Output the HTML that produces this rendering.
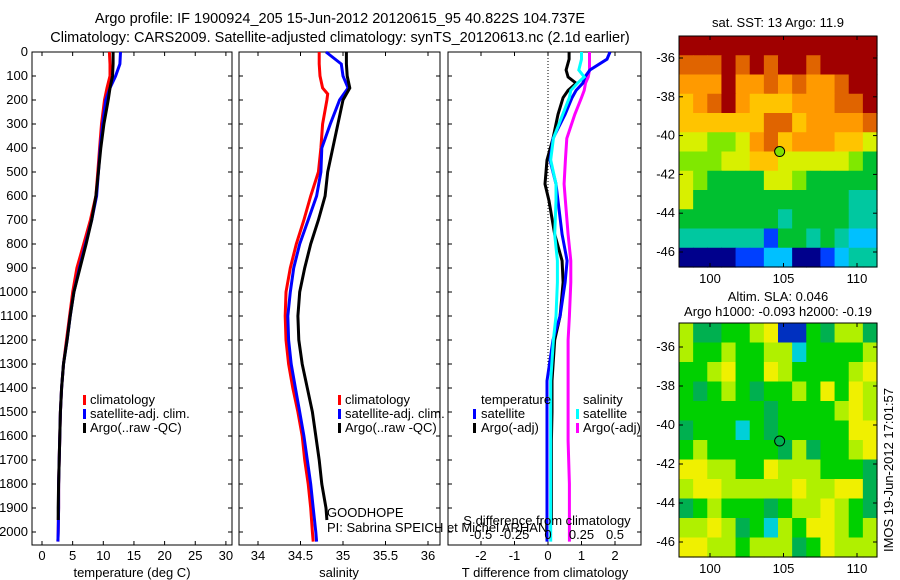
<!DOCTYPE html>
<html><head><meta charset="utf-8"><style>
body{margin:0;background:#fff;}
svg{display:block;font-family:"Liberation Sans",sans-serif;}
text{font-size:13px;fill:#000;}
text.title{font-size:14.5px;}
</style></head><body>
<svg id="fig" width="900" height="580" viewBox="0 0 900 580" xmlns="http://www.w3.org/2000/svg">
<text class="title" x="340" y="23" text-anchor="middle">Argo profile: IF 1900924_205 15-Jun-2012 20120615_95 40.822S 104.737E</text>
<text class="title" x="340" y="42" text-anchor="middle">Climatology: CARS2009. Satellite-adjusted climatology: synTS_20120613.nc (2.1d earlier)</text>
<g id="g"></g>
</svg>
<script>
// ---- data ----
const tDepth=[0,50,100,150,200,300,400,500,600,700,800,900,1000,1100,1200,1300,1400,1500,1600,1700,1800,1900,2000,2040];
const tClim=[11.0,11.1,11.1,10.6,10.2,9.7,9.4,9.1,8.8,7.9,6.8,5.7,5.0,4.5,4.0,3.5,3.2,3.0,2.9,2.8,2.7,2.7,2.65,2.6];
const tSat=[12.8,12.7,12.0,11.1,10.4,9.9,9.5,9.2,8.9,8.1,7.1,6.1,5.2,4.6,4.1,3.5,3.2,3.0,2.9,2.8,2.7,2.7,2.65,2.6];
const tArgoDepth=[0,50,100,150,200,300,400,500,600,700,800,900,1000,1100,1200,1300,1400,1500,1600,1700,1800,1900,1950];
const tArgo=[11.6,11.6,11.5,11.1,10.8,10.1,9.6,9.2,8.8,8.1,7.2,6.2,5.2,4.6,4.1,3.5,3.2,3.0,2.9,2.8,2.7,2.65,2.65];
const sDepth=[0,50,100,150,175,200,300,400,500,600,700,800,900,1000,1100,1200,1300,1400,1500,1600,1700,1800,1900,2000,2040];
const sClim=[34.72,34.72,34.73,34.76,34.82,34.81,34.76,34.74,34.71,34.62,34.54,34.45,34.38,34.33,34.32,34.33,34.36,34.41,34.47,34.52,34.55,34.59,34.62,34.64,34.65];
const sSat=[34.80,34.98,35.00,35.06,35.01,34.96,34.85,34.75,34.74,34.69,34.59,34.49,34.42,34.38,34.35,34.36,34.39,34.44,34.49,34.54,34.58,34.62,34.65,34.68,34.69];
const sArgoDepth=[0,50,100,150,175,200,300,400,500,600,700,800,900,1000,1100,1200,1300,1400,1500,1600,1700,1800,1900,1950];
const sArgo=[35.04,35.04,35.05,35.08,35.04,35.00,34.94,34.88,34.82,34.79,34.71,34.62,34.55,34.49,34.47,34.48,34.52,34.58,34.64,34.68,34.72,34.75,34.80,34.81];
const dDepth=[0,30,75,104,130,160,190,260,360,450,550,620,760,870,960,1100,1200,1370,1500,1620,1800,2000,2040];
const dTsat=[1.85,1.76,1.25,1.10,1.04,0.84,0.72,0.51,0.15,0.06,0.24,0.30,0.42,0.57,0.51,0.36,0.15,-0.03,-0.03,-0.03,-0.03,-0.03,-0.03];
const dSsat=[0.25,0.25,0.23,0.27,0.22,0.17,0.16,0.11,0.04,0.02,0.06,0.06,0.05,0.07,0.07,0.06,0.04,0.02,0.02,0.02,0.02,0.02,0.02];
const dSargo=[0.31,0.31,0.31,0.30,0.28,0.27,0.25,0.20,0.14,0.13,0.12,0.13,0.15,0.17,0.17,0.16,0.15,0.15,0.15,0.15,0.16,0.16,0.16];
const dTargoDepth=[0,30,75,104,130,160,190,260,360,450,550,620,760,870,960,1100,1200,1370,1500,1620,1800,1950];
const dTargo=[0.63,0.63,0.54,0.60,0.84,0.60,0.45,0.30,0.15,-0.03,-0.09,0.03,0.20,0.42,0.45,0.36,0.20,0.12,0.12,0.10,0.10,0.10];
const depthTicks=[0,100,200,300,400,500,600,700,800,900,1000,1100,1200,1300,1400,1500,1600,1700,1800,1900,2000];
const tTicks=[0,5,10,15,20,25,30];
const sTicks=[34,34.5,35,35.5,36];
const dTTicks=[-2,-1,0,1,2];
const dSTicks=[-0.5,-0.25,0,0.25,0.5];
const dSTickLabels=["-0.5","-0.25","0","0.25","0.5"];
const sstGrid=["AAAAAAAAAAAAAA","999A9A9AA9AAAA","888A88989889AA","789A877788899A","77777799788889","66556897888776","55566776666654","65444466544444","64444444444433","44444443444433","33333314434322","00001122001233"];
const slaGrid=["53344561143553","54454455244445","44564465444456","43454344546465","44444434444565","34442434444466","45444443534456","66554465554443","56655555655663","34544434556543","55653425466545","66554555346555"];
const argoLon=104.737, argoLat=-40.822;
const latTicks=[-36,-38,-40,-42,-44,-46];
const lonTicks=[100,105,110];

const NS="http://www.w3.org/2000/svg";
const G=document.getElementById('g');
function mk(t,a,p){const e=document.createElementNS(NS,t);for(const k in a)e.setAttribute(k,a[k]);(p||G).appendChild(e);return e;}
const yD=d=>52+0.24*d;
const xT=v=>42+6.13*v, xS=v=>258+85*(v-34), xDT=v=>548+33.5*v, xDS=v=>548+134*v;

function frame(x0,x1,y0,y1,name){
  const r=mk('rect',{x:x0,y:y0,width:x1-x0,height:y1-y0,fill:'#fff',stroke:'#000','stroke-width':1});
  
  
}
function line(xs,ds,fx,col,name){
  const pts=xs.map((v,i)=>fx(v).toFixed(1)+','+yD(ds[i]).toFixed(1)).join(' ');
  const p=mk('polyline',{points:pts,fill:'none',stroke:col,'stroke-width':3,'stroke-linejoin':'miter'});
  
  
}
function xTicks(ticks,labels,fx,x0,x1,y0,y1,ly){
  ticks.forEach((t,i)=>{const x=fx(t);
    mk('line',{x1:x,x2:x,y1:y1,y2:y1-4,stroke:'#000'});
    mk('line',{x1:x,x2:x,y1:y0,y2:y0+4,stroke:'#000'});
    if(ly){const tx=mk('text',{x:x,y:ly,'text-anchor':'middle'});tx.textContent=labels[i];
      
      }
  });
}
function yTicks(x0,x1,lab){
  depthTicks.forEach(d=>{const y=yD(d);
    mk('line',{x1:x0,x2:x0+4,y1:y,y2:y,stroke:'#000'});
    mk('line',{x1:x1,x2:x1-4,y1:y,y2:y,stroke:'#000'});
    if(lab){const t=mk('text',{x:x0-4,y:y+4,'text-anchor':'end'});t.textContent=d;
      
      }
  });
}
function txt(x,y,s,name,anchor){const t=mk('text',{x:x,y:y,'text-anchor':anchor||'start'});t.textContent=s;
  
  return t;}
function legBar(x,y,col,name){const r=mk('rect',{x:x,y:y-9,width:3,height:10,fill:col});
  
  }

// Panel 1 temperature
frame(32,232,52,545,'temperature-panel');
yTicks(32,232,true);
xTicks(tTicks,tTicks.map(String),xT,32,232,52,545,560);
line(tClim,tDepth,xT,'#f00','temperature-climatology-line');
line(tSat,tDepth,xT,'#00f','temperature-satellite-line');
line(tArgo,tArgoDepth,xT,'#000','temperature-argo-line');
txt(132,577,'temperature (deg C)','temperature-axis-title','middle');
legBar(83,404,'#f00','legend-climatology-swatch');txt(90,404,'climatology','legend-climatology');
legBar(83,418,'#00f','legend-satellite-swatch');txt(90,418,'satellite-adj. clim.','legend-satellite');
legBar(83,432,'#000','legend-argo-swatch');txt(90,432,'Argo(..raw -QC)','legend-argo');

// Panel 2 salinity
frame(239,440,52,545,'salinity-panel');
yTicks(239,440,false);
xTicks(sTicks,sTicks.map(String),xS,239,440,52,545,560);
line(sClim,sDepth,xS,'#f00','salinity-climatology-line');
line(sSat,sDepth,xS,'#00f','salinity-satellite-line');
line(sArgo,sArgoDepth,xS,'#000','salinity-argo-line');
txt(339,577,'salinity','salinity-axis-title','middle');
legBar(338,404,'#f00','legend2-climatology-swatch');txt(345,404,'climatology','legend2-climatology');
legBar(338,418,'#00f','legend2-satellite-swatch');txt(345,418,'satellite-adj. clim.','legend2-satellite');
legBar(338,432,'#000','legend2-argo-swatch');txt(345,432,'Argo(..raw -QC)','legend2-argo');

// Panel 3 differences
frame(448,641,52,545,'difference-panel');
yTicks(448,641,false);
xTicks(dTTicks,dTTicks.map(String),xDT,448,641,52,545,560);
mk('line',{x1:548,x2:548,y1:52,y2:545,stroke:'#000','stroke-dasharray':'1,2'});
line(dSargo,dDepth,xDS,'#f0f','salinity-diff-argo-line');
line(dTargo,dTargoDepth,xDT,'#000','temperature-diff-argo-line');
line(dTsat,dDepth,xDT,'#00f','temperature-diff-satellite-line');
line(dSsat,dDepth,xDS,'#0ff','salinity-diff-satellite-line');
txt(545,577,'T difference from climatology','t-diff-axis-title','middle');
txt(481,404,'temperature','legend3-temperature-heading');
legBar(473,418,'#00f','legend3-t-sat-swatch');txt(481,418,'satellite','legend3-t-satellite');
legBar(473,432,'#000','legend3-t-argo-swatch');txt(481,432,'Argo(-adj)','legend3-t-argo');
txt(583,404,'salinity','legend3-salinity-heading');
legBar(576,418,'#0ff','legend3-s-sat-swatch');txt(583,418,'satellite','legend3-s-satellite');
legBar(576,432,'#f0f','legend3-s-argo-swatch');txt(583,432,'Argo(-adj)','legend3-s-argo');
dSTicks.forEach((t,i)=>txt(xDS(t),539,dSTickLabels[i],'s-diff-tick-label','middle'));
txt(547,525,'S difference from climatology','s-diff-axis-title','middle');
txt(327,517,'GOODHOPE','project-label');
txt(327,532,'PI: Sabrina SPEICH et Michel ARHAN','pi-label');

// Maps
const sstCol={'0':'#00008c','1':'#0040ff','2':'#00c0ff','3':'#00c8a0','4':'#00c030','5':'#80e800','6':'#d8f000','7':'#ffc400','8':'#ff9a00','9':'#e06400','A':'#a00000'};
const slaCol={'1':'#0030c0','2':'#00d0d8','3':'#00b050','4':'#00d000','5':'#b0f000','6':'#f0f000'};
function map(grid,cols,x0,x1,y0,y1,lat36,lat46,name){
  const W=x1-x0,H=y1-y0,nr=grid.length,nc=grid[0].length;
  const gg=mk('g',{});
  
  
  grid.forEach((row,r)=>{for(let c=0;c<nc;c++){
    const cell=mk('rect',{x:(x0+c*W/nc).toFixed(2),y:(y0+r*H/nr).toFixed(2),width:(W/nc+0.6).toFixed(2),height:(H/nr+0.6).toFixed(2),fill:cols[row[c]]},gg);
    
    
  }});
  mk('rect',{x:x0,y:y0,width:W,height:H,fill:'none',stroke:'#000'});
  const yL=l=>lat36+(l+36)/(-10)*(lat46-lat36);
  const xL=l=>710+(l-100)*14.7;
  latTicks.forEach(l=>{const y=yL(l);
    mk('line',{x1:x0,x2:x0+4,y1:y,y2:y,stroke:'#000'});mk('line',{x1:x1,x2:x1-4,y1:y,y2:y,stroke:'#000'});
    txt(x0-4,y+4,String(l),'map-lat-tick-label','end');});
  lonTicks.forEach(l=>{const x=xL(l);
    mk('line',{x1:x,x2:x,y1:y0,y2:y0+4,stroke:'#000'});mk('line',{x1:x,x2:x,y1:y1,y2:y1-4,stroke:'#000'});
    txt(x,y1+16,String(l),'map-lon-tick-label','middle');});
  const c=mk('circle',{cx:xL(argoLon),cy:yL(argoLat),r:5,fill:name==='sst-map'?'#80e000':'#00b050',stroke:'#000','stroke-width':1});
  
  
}
map(sstGrid,sstCol,679,877,36,267,58,252,'sst-map');
txt(778,27,'sat. SST: 13 Argo: 11.9','sst-map-title','middle');
map(slaGrid,slaCol,679,877,323,557,347,542,'sla-map');
txt(778,301,'Altim. SLA: 0.046','sla-map-title','middle');
txt(778,316,'Argo h1000: -0.093 h2000: -0.19','sla-map-subtitle','middle');
const v=txt(0,0,'IMOS 19-Jun-2012 17:01:57','imos-timestamp','middle');
v.setAttribute('transform','translate(893,470) rotate(-90)');
</script>
</body></html>
